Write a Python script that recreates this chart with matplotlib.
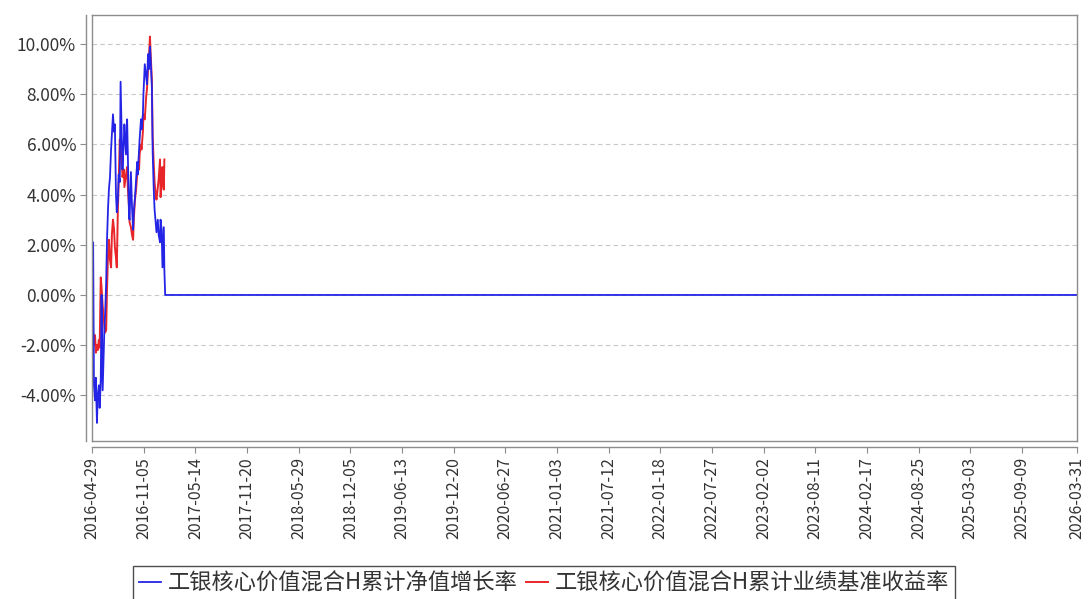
import numpy as np
import pandas as pd
import matplotlib
matplotlib.use('Agg')
from matplotlib import pyplot as plt

plt.rcParams['font.family'] = ['Noto Sans CJK SC', 'DejaVu Sans']

dates = ['2016-04-29', '2016-05-03', '2016-05-06', '2016-05-10', '2016-05-13', '2016-05-17',
         '2016-05-20', '2016-05-24', '2016-05-27', '2016-05-31', '2016-06-03', '2016-06-07',
         '2016-06-13', '2016-06-16', '2016-06-20', '2016-06-23', '2016-06-27', '2016-06-30',
         '2016-07-04', '2016-07-08', '2016-07-11', '2016-07-15', '2016-07-19', '2016-07-22',
         '2016-07-26', '2016-07-29', '2016-08-02', '2016-08-05', '2016-08-09', '2016-08-12',
         '2016-08-17', '2016-08-19', '2016-08-24', '2016-08-26', '2016-09-01', '2016-09-05',
         '2016-09-08', '2016-09-12', '2016-09-14', '2016-09-19', '2016-09-23', '2016-09-27',
         '2016-09-30', '2016-10-04', '2016-10-08', '2016-10-12', '2016-10-14', '2016-10-19',
         '2016-10-21', '2016-10-26', '2016-10-28', '2016-11-02', '2016-11-04', '2016-11-09',
         '2016-11-14', '2016-11-17', '2016-11-21', '2016-11-24', '2016-11-28', '2016-12-01',
         '2016-12-05', '2016-12-08', '2016-12-12', '2016-12-15', '2016-12-19', '2016-12-22',
         '2016-12-27', '2016-12-30', '2017-01-04', '2017-01-06', '2017-01-10', '2017-01-13',
         '2017-01-18', '2017-01-20']

# 累计净值增长率 (%)
nav = [0.00, 2.10, -3.60, -4.20, -3.30, -5.10, -4.00, -3.60, -4.50, -3.40, 0.00, -3.80,
       -1.50, -0.80, 0.50, 2.20, 3.50, 4.20, 4.70, 5.80, 6.40, 7.20, 6.50, 6.80,
       4.00, 3.30, 3.80, 4.80, 4.50, 8.50, 5.90, 5.00, 6.20, 6.80, 5.60, 7.00,
       5.40, 3.10, 3.00, 4.90, 3.50, 2.60, 3.40, 3.90, 4.60, 5.30, 4.80, 5.80,
       6.20, 7.00, 6.60, 7.20, 8.00, 9.20, 8.70, 8.40, 9.60, 9.00, 9.90, 9.30,
       8.30, 5.70, 4.20, 3.40, 2.90, 2.50, 3.00, 2.40, 2.10, 3.00, 2.60, 1.10,
       2.70, 1.00]
nav_tail_dates = ['2017-01-23', '2026-03-31']
nav_tail = [0.00, 0.00]

# 累计业绩基准收益率 (%)
bench = [0.00, -1.50, -2.00, -1.60, -2.30, -2.00, -2.20, -1.80, -2.10, 0.70, 0.30, -0.40,
         -1.20, -1.50, -1.40, 0.20, 1.70, 2.20, 1.40, 1.10, 2.40, 3.00, 2.60, 1.90,
         1.50, 1.10, 3.40, 4.50, 6.20, 5.80, 5.20, 4.70, 5.00, 4.30, 4.80, 5.10,
         4.20, 3.50, 2.90, 2.70, 2.40, 2.20, 3.10, 3.80, 4.20, 4.80, 5.20, 5.00,
         5.60, 6.00, 5.80, 6.50, 7.20, 7.00, 7.90, 8.20, 9.00, 9.40, 10.30, 9.50,
         8.60, 6.30, 5.20, 4.50, 4.00, 3.80, 4.30, 4.60, 5.40, 3.90, 4.40, 5.10,
         4.20, 5.40]

xtick_labels = ['2016-04-29', '2016-11-05', '2017-05-14', '2017-11-20', '2018-05-29',
                '2018-12-05', '2019-06-13', '2019-12-20', '2020-06-27', '2021-01-03',
                '2021-07-12', '2022-01-18', '2022-07-27', '2023-02-02', '2023-08-11',
                '2024-02-17', '2024-08-25', '2025-03-03', '2025-09-09', '2026-03-31']
yticks = [-4, -2, 0, 2, 4, 6, 8, 10]

nav_x = pd.to_datetime(dates + nav_tail_dates)
nav_y = nav + nav_tail
bench_x = pd.to_datetime(dates)

fig = plt.figure(figsize=(10.88, 5.99), dpi=100)
ax = fig.add_axes([0.0846, 0.2638, 0.9053, 0.7112])

ax.plot(bench_x, bench, color='#e8262a', lw=1.4, label='工银核心价值混合H累计业绩基准收益率')
ax.plot(nav_x, nav_y, color='#2424e6', lw=1.3, label='工银核心价值混合H累计净值增长率')

ax.set_xlim(pd.Timestamp(xtick_labels[0]), pd.Timestamp(xtick_labels[-1]))
ax.set_ylim(-5.82, 11.16)
ax.set_xticks(pd.to_datetime(xtick_labels))
ax.set_xticklabels(xtick_labels)
ax.set_yticks(yticks)
ax.set_yticklabels(['%.2f%%' % v for v in yticks])

ax.grid(axis='y', color='#c8c8c8', ls=(0, (4, 3)), lw=0.8)
ax.set_axisbelow(True)

spine_col = '#8c8c8c'
for s in ['left', 'bottom']:
    ax.spines[s].set_position(('outward', 4))
for s in ax.spines.values():
    s.set_color(spine_col)
    s.set_linewidth(1.0)
# inner box lines
ax.plot([0, 0], [0, 1], transform=ax.transAxes, color=spine_col, lw=1.0, clip_on=False)
ax.plot([0, 1], [0, 0], transform=ax.transAxes, color=spine_col, lw=1.0, clip_on=False)

ax.tick_params(axis='both', direction='out', length=4, color=spine_col,
               labelsize=12, labelcolor='#333333')
ax.tick_params(axis='x', labelrotation=90, labelsize=11.5)
ax.tick_params(axis='y', labelsize=12.5)

h, l = ax.get_legend_handles_labels()
leg = fig.legend(h[::-1], l[::-1], loc='upper center', bbox_to_anchor=(0.5, 0.055),
                 ncol=2, fontsize=16, frameon=True, fancybox=False,
                 handlelength=1.0, handletextpad=0.3, columnspacing=0.4,
                 borderpad=0.25, borderaxespad=0)
leg.get_frame().set_edgecolor('#222222')
leg.get_frame().set_linewidth(1.0)
for t in leg.get_texts():
    t.set_color('#333333')

fig.savefig('out.png', dpi=100)
